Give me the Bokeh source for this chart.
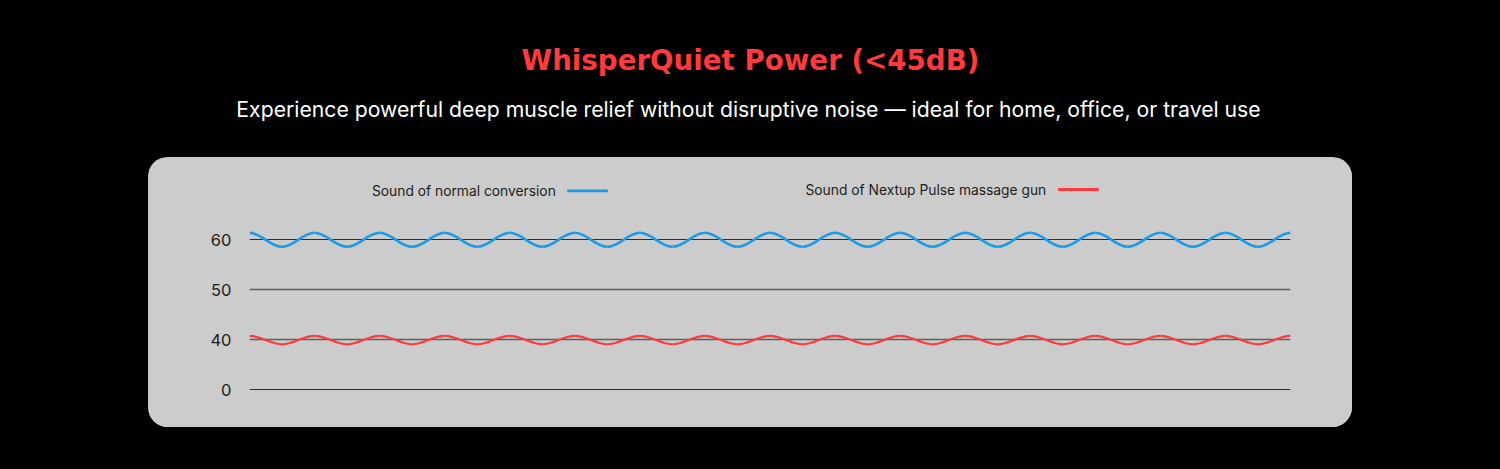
import numpy as np
from bokeh.plotting import figure
from bokeh.layouts import column, row
from bokeh.models import (Range1d, LinearAxis, Grid, FixedTicker, BoxAnnotation,
                          Label, Spacer, GlobalInlineStyleSheet)
from bokeh.embed import file_html
from bokeh.resources import INLINE

# ---------------- data ----------------
TITLE = "WhisperQuiet Power (<45dB)"
SUBTITLE = ("Experience powerful deep muscle relief without disruptive noise \u2014 "
            "ideal for home, office, or travel use")
SERIES_NAMES = ["Sound of normal conversion", "Sound of Nextup Pulse massage gun"]
TICK_DB = [0, 40, 50, 60]
TICK_LABELS = ["0", "40", "50", "60"]
# half-cycle index of every crest / trough
WAVE_STEP = [0, 1, 2, 3, 4, 5, 6, 7, 8, 9, 10, 11, 12, 13, 14, 15, 16,
             17, 18, 19, 20, 21, 22, 23, 24, 25, 26, 27, 28, 29, 30, 31, 32]
NORMAL_DB = [61.4, 58.6, 61.4, 58.6, 61.4, 58.6, 61.4, 58.6, 61.4, 58.6, 61.4,
             58.6, 61.4, 58.6, 61.4, 58.6, 61.4, 58.6, 61.4, 58.6, 61.4, 58.6,
             61.4, 58.6, 61.4, 58.6, 61.4, 58.6, 61.4, 58.6, 61.4, 58.6, 61.4]
NEXTUP_DB = [40.8, 39.1, 40.8, 39.1, 40.8, 39.1, 40.8, 39.1, 40.8, 39.1, 40.8,
             39.1, 40.8, 39.1, 40.8, 39.1, 40.8, 39.1, 40.8, 39.1, 40.8, 39.1,
             40.8, 39.1, 40.8, 39.1, 40.8, 39.1, 40.8, 39.1, 40.8, 39.1, 40.8]

# ---------------- style / layout ----------------
W = 1484
HEADER_H = 157
PANEL_X, PANEL_W, PANEL_H = 148, 1204, 270
BLUE = "#1b9be8"
RED = "#ff3a3d"
PANEL = "#cccccc"
INK = "#1c1c1c"
FONT = "Inter"

# frame borders inside the panel (px)
B_LEFT, B_RIGHT = 101, 62
# panel-local y of tick index 0 and px per tick step
Y0_PX, STEP_PX = 232.3, 50.0


def to_pos(values):
    """Broken axis: each labelled level is one step; local scale 10 dB per step."""
    out = []
    for v in values:
        i = int(np.argmin([abs(v - t) for t in TICK_DB]))
        out.append(i + (v - TICK_DB[i]) / 10.0)
    return np.array(out)


# ---------------- header ----------------
head = figure(width=W, height=HEADER_H, output_backend="svg", toolbar_location=None,
              x_axis_type=None, y_axis_type=None, x_range=Range1d(0, 1),
              y_range=Range1d(0, 1), min_border=0)
head.border_fill_color = "#000000"
head.background_fill_color = "#000000"
head.outline_line_color = None
head.stylesheets = [GlobalInlineStyleSheet(css="html, body { background: #000000; }")]
head.add_layout(Label(x=750, y=59.5, x_units="canvas", y_units="canvas", text=TITLE,
                      text_align="center", text_baseline="alphabetic",
                      text_font="DejaVu Sans", text_font_style="bold",
                      text_font_size="27.7px", text_color=RED))
head.add_layout(Label(x=748, y=108, x_units="canvas", y_units="canvas", text=SUBTITLE,
                      text_align="center", text_baseline="alphabetic", text_font=FONT,
                      text_font_size="21.2px", text_color="#ffffff"))

# ---------------- panel with the chart ----------------
p = figure(width=PANEL_W, height=PANEL_H, output_backend="svg", toolbar_location=None,
           x_axis_type=None, y_axis_type=None,
           x_range=Range1d(min(WAVE_STEP), max(WAVE_STEP)),
           y_range=Range1d(-(PANEL_H - Y0_PX) / STEP_PX, Y0_PX / STEP_PX),
           min_border_left=B_LEFT, min_border_right=B_RIGHT,
           min_border_top=0, min_border_bottom=0,
           styles={"border-radius": "20px", "overflow": "hidden",
                   "background-color": PANEL})
p.border_fill_color = PANEL
p.background_fill_color = PANEL
p.outline_line_color = None

tick_idx = list(range(len(TICK_DB)))
yaxis = LinearAxis(ticker=FixedTicker(ticks=tick_idx),
                   major_label_overrides={i: lab for i, lab in zip(tick_idx, TICK_LABELS)},
                   axis_line_color=None, major_tick_line_color=None,
                   minor_tick_line_color=None, major_tick_in=0, major_tick_out=0,
                   major_label_standoff=18,
                   major_label_text_font=FONT, major_label_text_font_size="16.5px",
                   major_label_text_color=INK)
p.add_layout(yaxis, "left")

p.add_layout(Grid(dimension=1, ticker=FixedTicker(ticks=[tick_idx[0], tick_idx[3]]),
                  grid_line_color="#2e2e2e", grid_line_width=1))
p.add_layout(Grid(dimension=1, ticker=FixedTicker(ticks=[tick_idx[1], tick_idx[2]]),
                  grid_line_color="#5e5e5e", grid_line_width=1.6))

# smooth waves through crests/troughs
K = 0.3642
for vals, col, lw in [(NORMAL_DB, BLUE, 2.6), (NEXTUP_DB, RED, 2.2)]:
    xs = np.array(WAVE_STEP, dtype=float)
    ys = to_pos(vals)
    x0, x1 = xs[:-1], xs[1:]
    y0, y1 = ys[:-1], ys[1:]
    dx = x1 - x0
    p.bezier(x0=x0, y0=y0, x1=x1, y1=y1, cx0=x0 + K * dx, cy0=y0,
             cx1=x1 - K * dx, cy1=y1, line_color=col, line_width=lw)

# manual legend: text then a line sample (panel-local canvas px)
for name, tx, lx, col, by, ly in [(SERIES_NAMES[0], 223.5, 418.7, BLUE, 33, 33.3),
                                  (SERIES_NAMES[1], 657, 909.7, RED, 32.5, 32)]:
    p.add_layout(Label(x=tx, y=by, x_units="canvas", y_units="canvas", text=name,
                       text_align="left", text_baseline="alphabetic", text_font=FONT,
                       text_font_size="13.8px", text_color=INK))
    p.add_layout(BoxAnnotation(left=lx, right=lx + 40.6, top=ly - 1.4, bottom=ly + 1.4,
                               left_units="canvas", right_units="canvas",
                               top_units="canvas", bottom_units="canvas",
                               fill_color=col, fill_alpha=1, line_color=None))

layout = column(head, row(Spacer(width=PANEL_X, height=PANEL_H), p))
open("out.html", "w").write(file_html(layout, INLINE))
